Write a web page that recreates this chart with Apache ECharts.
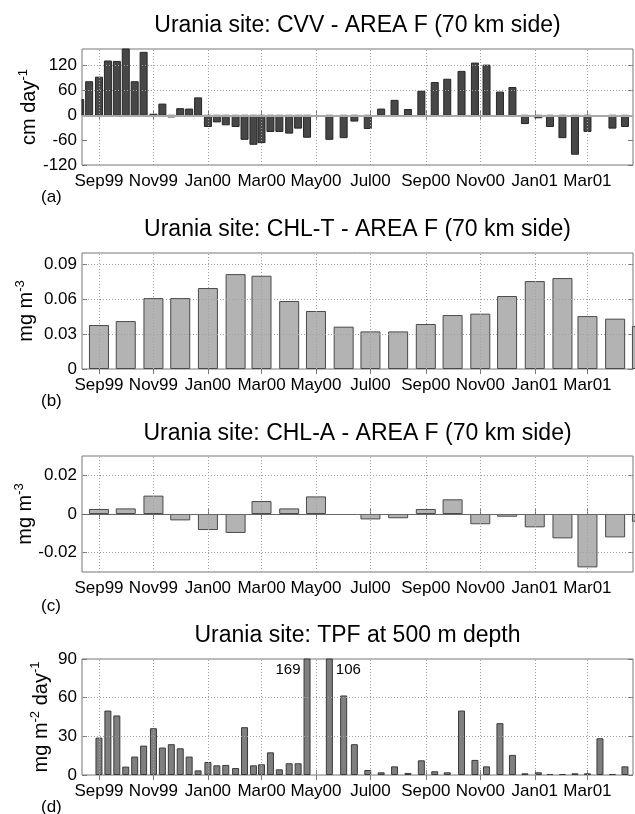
<!DOCTYPE html>
<html>
<head>
<meta charset="utf-8">
<script src="https://cdn.jsdelivr.net/npm/echarts@6/dist/echarts.min.js"></script>
<style>
html,body{margin:0;padding:0;background:#fff;}
#chart{width:635px;height:814px;}
</style>
</head>
<body>
<div id="chart"></div>
<script>
// ---------- data ----------
const datesA = ['1999-08-11','1999-08-21','1999-09-01','1999-09-11','1999-09-21','1999-10-01','1999-10-11','1999-10-21',
  '1999-11-01','1999-11-11','1999-11-21','1999-12-01','1999-12-11','1999-12-21','2000-01-01','2000-01-11','2000-01-21',
  '2000-02-01','2000-02-11','2000-02-21','2000-03-01','2000-03-11','2000-03-21','2000-04-01','2000-04-11','2000-04-21',
  '2000-05-16','2000-06-01','2000-06-13','2000-06-28','2000-07-13','2000-07-28','2000-08-12','2000-08-27','2000-09-11',
  '2000-09-25','2000-10-11','2000-10-26','2000-11-08','2000-11-23','2000-12-07','2000-12-21','2001-01-05','2001-01-18',
  '2001-02-01','2001-02-15','2001-03-01','2001-03-15','2001-03-29','2001-04-12'];
const cvvValues = [38, 81, 92, 131, 130, 170, 81, 152, 2.5, 27, -4, 16, 15, 42, -27, -16, -23, -27, -58, -70, -66, -39, -39, -43, -31, -53,
  -58, -54, -14, -32, 15, 36, 14, 58, 79, 87, 106, 126, 121, 56, 67, -20, -6, -27, -54, -94, -39, 0, -31, -27];

const datesD = datesA.slice(2);
const tpfValues = [29, 50, 46.2, 6.5, 14.3, 22.8, 36.3, 21.3, 23.9, 20.7, 14.3, 3.6, 10.1, 7.5, 7.8, 5.4, 37.1, 7.5, 8.3, 17.6, 4.4, 9.1, 9.1, 169,
  106, 61.7, 23.9, 3.9, 2.1, 6.7, 1.6, 11.4, 2.9, 2.1, 50, 11.7, 6.7, 40.2, 15.6, 1.3, 2.1, 0.8, 0.8, 1.3, 1.3, 28.5, 0.8, 6.7];

const monthDates = ['1999-09-01','1999-10-01','1999-11-01','1999-12-01','2000-01-01','2000-02-01','2000-03-01','2000-04-01',
  '2000-05-01','2000-06-01','2000-07-01','2000-08-01','2000-09-01','2000-10-01','2000-11-01','2000-12-01','2001-01-01',
  '2001-02-01','2001-03-01','2001-04-01','2001-05-01'];
const chlTValues = [0.0379, 0.0413, 0.0611, 0.0611, 0.0698, 0.0818, 0.0804, 0.0586, 0.0500, 0.0365, 0.0324, 0.0324,
  0.0388, 0.0465, 0.0477, 0.0629, 0.0758, 0.0784, 0.0456, 0.0434, 0.0370];
const chlAValues = [0.0026, 0.0029, 0.0095, -0.0033, -0.0083, -0.0098, 0.0067, 0.0029, 0.0091, 0, -0.0028, -0.0022,
  0.0026, 0.0076, -0.0053, -0.0014, -0.0069, -0.0126, -0.0276, -0.0121, -0.0040];

const tickDates = ['1999-09-01','1999-11-01','2000-01-01','2000-03-01','2000-05-01','2000-07-01','2000-09-01','2000-11-01','2001-01-01','2001-03-01'];
const tickLabels = ['Sep99','Nov99','Jan00','Mar00','May00','Jul00','Sep00','Nov00','Jan01','Mar01'];
const xStart = '1999-08-13';
const xEnd = '2001-04-21';

const titles = ['Urania site: CVV - AREA F (70 km side)', 'Urania site: CHL-T - AREA F (70 km side)',
  'Urania site: CHL-A - AREA F (70 km side)', 'Urania site: TPF at 500 m depth'];
const panelTags = ['(a)', '(b)', '(c)', '(d)'];
const yTicksA = [-120, -60, 0, 60, 120];
const yTicksB = [0, 0.03, 0.06, 0.09];
const yTicksC = [-0.02, 0, 0.02];
const yTicksD = [0, 30, 60, 90];

// ---------- helpers ----------
const DAY = 86400000;
function toDay(s) { const p = s.split('-').map(Number); return Math.round(Date.UTC(p[0], p[1] - 1, p[2]) / DAY); }
const FONT = "'Liberation Sans', Arial, Helvetica, sans-serif";
const tickDays = tickDates.map(toDay);
const xMin = toDay(xStart), xMax = toDay(xEnd);
const GRID_LEFT = 82, GRID_RIGHT = 2, GRID_H = 116;
const gridTops = [49, 253, 456, 659];
const AXIS_COLOR = '#777';

const panels = [
  { dates: datesA, values: cvvValues, yMin: -120, yMax: 160, ticks: yTicksA, grid: [60, 120], zero: { color: '#a9a9a9', width: 2 },
    barWidth: 7, color: '#474747', border: '#262626', custom: true,
    name: '{b|cm day}{s|-1}', nameGap: 43 },
  { dates: monthDates, values: chlTValues, yMin: 0, yMax: 0.1, ticks: yTicksB, grid: [0.03, 0.06, 0.09], zero: null,
    barWidth: 20, color: '#b3b3b3', border: '#4a4a4a',
    name: '{b|mg m}{s|-3}', nameGap: 46 },
  { dates: monthDates, values: chlAValues, yMin: -0.03, yMax: 0.03, ticks: yTicksC, grid: [-0.02, 0.02], zero: { color: '#666', width: 1 },
    barWidth: 20, color: '#b3b3b3', border: '#4a4a4a',
    name: '{b|mg m}{s|-3}', nameGap: 47 },
  { dates: datesD, values: tpfValues, yMin: 0, yMax: 90, ticks: yTicksD, grid: [30, 60], zero: null,
    barWidth: 7, color: '#7f7f7f', border: '#3a3a3a',
    name: '{b|mg m}{s|-2}{b| day}{s|-1}', nameGap: 31 }
];

const richName = {
  b: { fontSize: 20, fontFamily: FONT, color: '#000', lineHeight: 22, verticalAlign: 'bottom' },
  s: { fontSize: 13, fontFamily: FONT, color: '#000', lineHeight: 22, verticalAlign: 'top' }
};

const option = {
  animation: false,
  backgroundColor: '#fff',
  textStyle: { fontFamily: FONT },
  title: [],
  grid: [],
  xAxis: [],
  yAxis: [],
  series: []
};

const titleTops = [14, 218, 422, 624];
const tagTops = [189, 393, 598, 799];

panels.forEach((p, i) => {
  option.title.push({
    text: titles[i], left: GRID_LEFT + (635 - GRID_LEFT - GRID_RIGHT) / 2, top: titleTops[i], textAlign: 'center', padding: 0,
    textStyle: { fontSize: 23, fontWeight: 'normal', color: '#000', fontFamily: FONT }
  });
  option.title.push({
    text: panelTags[i], left: 41, top: tagTops[i], padding: 0,
    textStyle: { fontSize: 17, fontWeight: 'normal', color: '#000', fontFamily: FONT }
  });
  option.grid.push({
    left: GRID_LEFT, right: GRID_RIGHT, top: gridTops[i], height: GRID_H,
    show: true, borderColor: AXIS_COLOR, borderWidth: 1, backgroundColor: 'transparent'
  });
  const xBase = {
    type: 'value', gridIndex: i, min: xMin, max: xMax, scale: true,
    axisLine: { show: false }, splitLine: { show: false },
    axisTick: { show: true, inside: true, length: 5, lineStyle: { color: AXIS_COLOR }, customValues: tickDays }
  };
  option.xAxis.push(Object.assign({}, xBase, {
    position: 'bottom',
    axisLabel: {
      customValues: tickDays, fontSize: 17, color: '#000', margin: 8, fontFamily: FONT, hideOverlap: false,
      formatter: v => { const k = tickDays.indexOf(Math.round(v)); return k >= 0 ? tickLabels[k] : ''; }
    }
  }));
  option.xAxis.push(Object.assign({}, xBase, { position: 'top', axisLabel: { show: false } }));
  const yBase = {
    type: 'value', gridIndex: i, min: p.yMin, max: p.yMax,
    axisLine: { show: false }, splitLine: { show: false },
    axisTick: { show: true, inside: true, length: 5, lineStyle: { color: AXIS_COLOR }, customValues: p.ticks }
  };
  option.yAxis.push(Object.assign({}, yBase, {
    position: 'left',
    axisLabel: { customValues: p.ticks, fontSize: 17, color: '#000', margin: 5, fontFamily: FONT },
    name: p.name, nameLocation: 'middle', nameGap: p.nameGap, nameMoveOverlap: false,
    nameTextStyle: { rich: richName }
  }));
  option.yAxis.push(Object.assign({}, yBase, { position: 'right', axisLabel: { show: false } }));

  const gl = tickDays.map(t => ({ xAxis: t })).concat(p.grid.map(v => ({ yAxis: v })));
  option.series.push({
    type: 'line', xAxisIndex: 2 * i, yAxisIndex: 2 * i, data: [], z: 1, silent: true,
    markLine: {
      silent: true, symbol: ['none', 'none'], label: { show: false }, animation: false,
      lineStyle: { type: [1, 2], color: '#a0a0a0', width: 1 },
      data: gl
    }
  });
  if (p.zero) {
    option.series.push({
      type: 'line', xAxisIndex: 2 * i, yAxisIndex: 2 * i, data: [], z: 1, silent: true,
      markLine: {
        silent: true, symbol: ['none', 'none'], label: { show: false }, animation: false,
        lineStyle: { type: 'solid', color: p.zero.color, width: p.zero.width },
        data: [{ yAxis: 0 }]
      }
    });
  }

  if (p.custom) {
    // custom bars clipped exactly to the plot area
    option.series.push({
      type: 'custom', xAxisIndex: 2 * i, yAxisIndex: 2 * i, z: 2, silent: true,
      data: p.dates.map((d, j) => [toDay(d), p.values[j]]),
      renderItem: (params, api) => {
        const v = api.value(1);
        if (!v) return null;
        const base = api.coord([api.value(0), 0]);
        const top = api.coord([api.value(0), v]);
        const cs = params.coordSys;
        const rect = echarts.graphic.clipRectByRect(
          { x: base[0] - p.barWidth / 2, y: Math.min(base[1], top[1]), width: p.barWidth, height: Math.abs(top[1] - base[1]) },
          { x: cs.x, y: cs.y, width: cs.width, height: cs.height });
        return rect && { type: 'rect', shape: rect, style: { fill: p.color, stroke: p.border, lineWidth: 1 } };
      }
    });
    return;
  }

  let overflowCount = 0;
  const data = p.dates.map((d, j) => {
    const v = p.values[j];
    const item = { value: [toDay(d), v === 0 ? null : v] };
    if (i === 3 && v > p.yMax) {
      const leftSide = overflowCount === 0;
      overflowCount++;
      item.label = {
        show: true, formatter: String(v), fontSize: 15, color: '#000', fontFamily: FONT,
        position: leftSide ? [-3, 4] : ['100%', 4], offset: leftSide ? [0, 0] : [3, 0],
        align: leftSide ? 'right' : 'left', verticalAlign: 'top'
      };
    }
    return item;
  });
  option.series.push({
    type: 'bar', xAxisIndex: 2 * i, yAxisIndex: 2 * i, data: data, z: 2, clip: true,
    barWidth: p.barWidth,
    itemStyle: { color: p.color, borderColor: p.border, borderWidth: 1 },
    label: { show: false }
  });
});

const chart = echarts.init(document.getElementById('chart'), null, { renderer: 'canvas' });
chart.setOption(option);
</script>
</body>
</html>
